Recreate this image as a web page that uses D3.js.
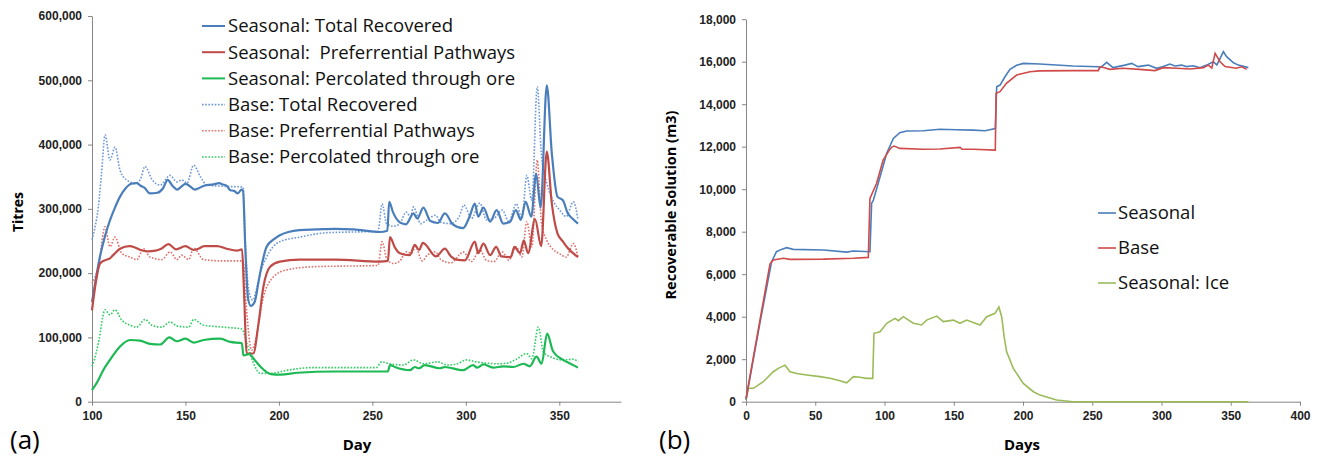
<!DOCTYPE html>
<html>
<head>
<meta charset="utf-8">
<script src="https://cdn.jsdelivr.net/npm/d3@7/dist/d3.min.js"></script>
<style>
  body { margin: 0; background: #fff; }
  svg { display: block; font-family: "Open Sans", sans-serif; }
  .tick text { font-size: 12px; font-weight: 600; fill: #222; }
  .axis path, .axis line { stroke: #868686; }
</style>
</head>
<body>
<script>
// ---- panel (a): litres per day, days 100-361 ----
var seasTotal = [[100,155000],[102,190000],[104,222000],[107,258000],[109.6,282000],[112,300000],[115,319000],[118,332000],[121,339000],[124,340000],[126,336000],[128,333000],[131,324000],[135,325000],[138,332000],[140.5,345000],[143,336000],[145.5,330000],[148,335000],[150,339000],[152,336000],[155,330000],[157,332000],[160,336000],[165,338000],[168,340000],[170,338000],[172,336000],[174,329000],[176,328000],[178,324000],[180,330000],[180.8,328000],[182,240000],[183.5,160000],[185,149000],[187,155000],[189,185000],[191,215000],[193.4,241000],[197,252000],[200.5,259000],[205,264000],[211,267000],[220,268000],[230,269000],[240,268000],[254,264000],[258,266000],[259,311000],[261,295000],[264.7,279000],[268,276000],[272,293000],[274,285000],[277.3,302000],[281,281000],[285,278000],[288.8,293000],[293,276000],[298.5,270000],[302,288000],[304.8,308000],[306.6,288000],[309.4,302000],[313,280000],[316.5,298000],[320,277000],[323.7,280000],[326.7,298000],[329.4,283000],[332,311000],[335,288000],[337.6,355000],[340,302000],[343.3,492000],[346,386000],[349,319000],[352,313000],[354.5,293000],[357,285000],[360,277000]];
var seasPref = [[100,142000],[102,185000],[104.3,215000],[107,220000],[109.6,223000],[112,230000],[115,238000],[120,242000],[123,240000],[126,236000],[130,234000],[134,235000],[137,238000],[140.9,245000],[145,237000],[150,242000],[154.4,236000],[157,238000],[160,242000],[167,242000],[172,238000],[177.5,235000],[180.3,237000],[181.2,180000],[182.8,75000],[186.3,75000],[189,120000],[191.7,179000],[195.3,210000],[200.5,218000],[211,221000],[230,221000],[254,218000],[258.3,219000],[259.4,256000],[262,240000],[264.7,231000],[270,228000],[272.7,244000],[275,236000],[277,247000],[284,226000],[288.8,238000],[292,226000],[295,221000],[299.5,220000],[304.8,249000],[306.6,231000],[309.4,246000],[313,228000],[316.2,241000],[319,226000],[324,225000],[326,241000],[329,231000],[331,251000],[333.3,231000],[337,284000],[340.3,242000],[343.3,389000],[346,308000],[349,262000],[352,249000],[354.5,239000],[360,225000]];
var seasPerc = [[100,18000],[102.5,29000],[106,49000],[109.6,65000],[115,86000],[120.3,96000],[125.7,95000],[131,90000],[136.4,89000],[141.4,100000],[145.4,94000],[150,98000],[154.4,92000],[159.7,96000],[168.6,98000],[174,93000],[180.2,91000],[181,72000],[184,74000],[187,65000],[190.3,54000],[195.7,43000],[201,42000],[210,45000],[230,47000],[258.3,47000],[259.4,57000],[262,54000],[270,49000],[272.7,54000],[275,52000],[278,57000],[286,52000],[288.8,54000],[298.5,49000],[303.9,57000],[306,53000],[309.4,58000],[314.6,53000],[320,55000],[325.4,54000],[330.8,59000],[334.2,55000],[337.8,70000],[340.5,59000],[343.5,106000],[346.7,78000],[352,65000],[356,59000],[360,53000]];
var baseTotal = [[100,252000],[101.5,270000],[103.4,303000],[105.1,355000],[107,415000],[109.6,376000],[112.3,396000],[115,360000],[118.5,345000],[123,340000],[125.7,345000],[128.4,366000],[132,346000],[136.4,337000],[141.8,352000],[145.4,342000],[148,345000],[150.8,340000],[154.4,368000],[158,350000],[161.5,337000],[170.4,335000],[180.8,334000],[182,250000],[184,170000],[186,158000],[188,175000],[190,200000],[193.4,225000],[200.5,249000],[211,256000],[226,263000],[240,264000],[253,265000],[255.2,308000],[257.6,277000],[261.2,273000],[264.7,277000],[268,295000],[270.4,288000],[272,303000],[275.8,277000],[279.4,283000],[283.8,290000],[286.6,279000],[292,277000],[296.4,288000],[299,306000],[303,285000],[307.5,309000],[311,283000],[315,285000],[319.5,298000],[323,280000],[327,308000],[330,285000],[332.6,352000],[335.3,313000],[338.2,490000],[340.5,381000],[343.3,340000],[347,311000],[350.2,298000],[353.7,288000],[357.5,311000],[360,283000]];
var basePref = [[100,184000],[103.4,210000],[107,272000],[109.6,241000],[112.3,256000],[115.9,231000],[120.3,225000],[124,221000],[127.5,238000],[131,225000],[137.3,221000],[141.8,233000],[145.4,221000],[148,228000],[151.7,221000],[154.4,239000],[159.7,221000],[170.4,219000],[180.8,219000],[182.5,150000],[185.4,80000],[187,90000],[191.7,163000],[197,194000],[204,205000],[219,210000],[253,212000],[255.2,249000],[257.6,223000],[261.2,215000],[264.7,219000],[268,233000],[271,231000],[273,241000],[276.7,219000],[279.4,228000],[283.8,233000],[286.6,221000],[292,216000],[296.4,228000],[298.5,233000],[303,218000],[307.5,236000],[311,220000],[315,218000],[319.5,233000],[323,220000],[327,241000],[330,225000],[332.6,280000],[335.3,241000],[338.2,376000],[340.5,277000],[343.3,251000],[347,236000],[350.2,230000],[353.7,225000],[357.5,246000],[360,225000]];
var basePerc = [[100,55000],[100.7,60000],[103.4,91000],[107,143000],[109.6,135000],[112.3,143000],[115.9,127000],[120.3,119000],[124,116000],[128.4,128000],[132,119000],[137.3,116000],[141.8,124000],[145.4,118000],[151.7,116000],[154.4,128000],[159.7,119000],[170.4,116000],[180.2,113000],[182.8,91000],[187.3,54000],[190,44000],[195.7,44000],[202.8,48000],[218,53000],[252,53000],[255,62000],[259.4,59000],[266.5,57000],[272,65000],[277.3,59000],[285,62000],[290,57000],[295.5,59000],[300.2,65000],[305.6,62000],[311,60000],[316.4,59000],[322,60000],[327,66000],[332.6,75000],[335.3,67000],[338.8,116000],[341.4,78000],[345,70000],[352,65000],[357.5,66000],[360,62000]];

var aLabels = ["Seasonal: Total Recovered", "Seasonal:  Preferrential Pathways", "Seasonal: Percolated through ore",
  "Base: Total Recovered", "Base: Preferrential Pathways", "Base: Percolated through ore"];
var aTicksX = [100, 150, 200, 250, 300, 350];
var aTicksY = [0, 100000, 200000, 300000, 400000, 500000, 600000];

// ---- panel (b): recoverable solution, m3 ----
var bSeasonal = [[0,100],[10,3690],[18.5,6590],[22,7060],[26,7180],[29.4,7250],[34,7170],[56,7140],[72.7,7040],[77.5,7090],[89.5,7060],[90.7,9330],[92,9490],[96.8,10590],[101.6,11690],[106.4,12390],[111,12660],[116,12740],[128,12750],[140,12820],[152,12800],[164,12780],[172.6,12750],[180,12850],[181,14820],[183.4,14900],[187,15290],[190.6,15640],[195.4,15830],[200.3,15920],[212,15890],[236,15800],[254.4,15760],[256,15720],[260.4,15970],[265,15720],[273.6,15840],[278.5,15920],[283,15770],[290.5,15840],[296.5,15690],[301.3,15770],[306,15890],[309.7,15800],[314.5,15840],[318,15770],[323,15810],[327.8,15720],[332.6,15840],[337.4,16000],[340,15850],[344.7,16470],[347,16240],[352,15950],[355.5,15840],[362.7,15720]];
var bBase = [[0,150],[10,3800],[17.3,6480],[19.7,6670],[27,6750],[31.8,6700],[56,6710],[77.5,6750],[88.3,6790],[89.5,9570],[94.3,10280],[99,11370],[102.8,11770],[105,11970],[107,12030],[111,11920],[128,11880],[140,11890],[154.5,11970],[156,11880],[164,11880],[180,11840],[180.6,14510],[183.4,14590],[188,14980],[195.4,15370],[205,15530],[212,15570],[236,15580],[254.4,15580],[255.6,15770],[262.8,15640],[272,15690],[284,15640],[295.3,15580],[301.3,15720],[311,15690],[320.6,15660],[330.3,15720],[333.9,15840],[336.3,15700],[338.7,16390],[342.3,16000],[345.9,15770],[354,15690],[357.9,15760],[361.5,15640]];
var bIce = [[0,80],[1.7,630],[5.3,630],[12.5,940],[19.7,1410],[23.3,1570],[28.2,1720],[31.8,1410],[36.6,1330],[43.8,1260],[53.4,1180],[60.7,1100],[67.9,990],[72.7,890],[77.5,1180],[82.3,1150],[87,1100],[91.5,1100],[92.4,3220],[96.8,3290],[101.6,3690],[107.6,3920],[110,3810],[113.6,4000],[120.8,3690],[126.8,3610],[130.4,3840],[137.7,4030],[142.5,3770],[149.7,3840],[154.5,3690],[159.3,3840],[169,3610],[173.8,4000],[179.8,4160],[182.6,4460],[184.6,4000],[186.5,3000],[188.2,2350],[193,1570],[195.4,1330],[200.2,860],[207.5,470],[212.3,310],[224.3,80],[236.3,0],[362.7,0]];

var bLabels = ["Seasonal", "Base", "Seasonal: Ice"];
var bTicksX = [0, 50, 100, 150, 200, 250, 300, 350, 400];
var bTicksY = [0, 2000, 4000, 6000, 8000, 10000, 12000, 14000, 16000, 18000];

var W = 1325, H = 456;
var svg = d3.select("body").append("svg").attr("width", W).attr("height", H);
var fmt = d3.format(",");

function drawAxes(x, y, ticksX, ticksY, y0) {
  svg.append("g").attr("class", "axis")
    .attr("transform", "translate(0," + y0 + ")")
    .call(d3.axisBottom(x).tickValues(ticksX).tickSize(4).tickSizeOuter(0).tickPadding(6).tickFormat(fmt));
  svg.append("g").attr("class", "axis")
    .attr("transform", "translate(" + x.range()[0] + ",0)")
    .call(d3.axisLeft(y).tickValues(ticksY).tickSize(4).tickSizeOuter(0).tickPadding(6).tickFormat(fmt));
}

// panel (a)
var xa = d3.scaleLinear().domain([100, 383]).range([92, 621]);
var ya = d3.scaleLinear().domain([0, 600000]).range([401.7, 16]);
drawAxes(xa, ya, aTicksX, aTicksY, 401.7);

var lineA = d3.line().x(function(d) { return xa(d[0]); }).y(function(d) { return ya(d[1]); })
  .curve(d3.curveMonotoneX);

var aSeries = [
  { data: baseTotal, color: "#6d98d6", dash: "1.6,1.6", w: 1.6 },
  { data: basePref,  color: "#e0706c", dash: "1.6,1.6", w: 1.6 },
  { data: basePerc,  color: "#2fcc62", dash: "1.6,1.6", w: 1.6 },
  { data: seasTotal, color: "#4a7ebb", dash: null, w: 2.2 },
  { data: seasPref,  color: "#be4b48", dash: null, w: 2.2 },
  { data: seasPerc,  color: "#1db954", dash: null, w: 2.2 }
];
aSeries.forEach(function(s) {
  svg.append("path").datum(s.data)
    .attr("d", lineA).attr("fill", "none")
    .attr("stroke", s.color).attr("stroke-width", s.w)
    .attr("stroke-dasharray", s.dash);
});

// legend (a): same order as the labels
var aLeg = [aSeries[3], aSeries[4], aSeries[5], aSeries[0], aSeries[1], aSeries[2]];
aLeg.forEach(function(s, i) {
  var yy = 26 + i * 26.2;
  svg.append("line").attr("x1", 202).attr("x2", 225).attr("y1", yy).attr("y2", yy)
    .attr("stroke", s.color).attr("stroke-width", s.dash ? 1.6 : 2).attr("stroke-dasharray", s.dash);
  svg.append("text").attr("x", 228).attr("y", yy).attr("dy", "0.35em")
    .attr("font-size", 18.5).attr("fill", "#111").style("white-space", "pre")
    .text(aLabels[i]);
});

svg.append("text").attr("transform", "translate(23,212) rotate(-90)")
  .attr("text-anchor", "middle").attr("font-size", 14).attr("font-weight", 700).text("Titres");
svg.append("text").attr("x", 357).attr("y", 450).attr("text-anchor", "middle")
  .attr("font-size", 15).attr("font-weight", 700).text("Day");
svg.append("text").attr("x", 10).attr("y", 449).attr("font-size", 26).text("(a)");

// panel (b)
var xb = d3.scaleLinear().domain([0, 400]).range([746, 1300]);
var yb = d3.scaleLinear().domain([0, 18000]).range([401.7, 19.2]);
drawAxes(xb, yb, bTicksX, bTicksY, 401.7);

var lineB = d3.line().x(function(d) { return xb(d[0]); }).y(function(d) { return yb(d[1]); });

var bSeries = [
  { data: bSeasonal, color: "#4a7ebb" },
  { data: bBase, color: "#d04a4a" },
  { data: bIce, color: "#9bbb59" }
];
[bSeries[2], bSeries[0], bSeries[1]].forEach(function(s) {
  svg.append("path").datum(s.data)
    .attr("d", lineB).attr("fill", "none")
    .attr("stroke", s.color).attr("stroke-width", 1.6);
});

bSeries.forEach(function(s, i) {
  var yy = 213 + i * 35;
  svg.append("line").attr("x1", 1098).attr("x2", 1116).attr("y1", yy).attr("y2", yy)
    .attr("stroke", s.color).attr("stroke-width", 1.6);
  svg.append("text").attr("x", 1118).attr("y", yy).attr("dy", "0.35em")
    .attr("font-size", 18.5).attr("fill", "#111").text(bLabels[i]);
});

svg.append("text").attr("transform", "translate(676,205) rotate(-90)")
  .attr("text-anchor", "middle").attr("font-size", 14.5).attr("font-weight", 700).text("Recoverable Solution (m3)");
svg.append("text").attr("x", 1022).attr("y", 450).attr("text-anchor", "middle")
  .attr("font-size", 15).attr("font-weight", 700).text("Days");
svg.append("text").attr("x", 659).attr("y", 449).attr("font-size", 26).text("(b)");
</script>
</body>
</html>
